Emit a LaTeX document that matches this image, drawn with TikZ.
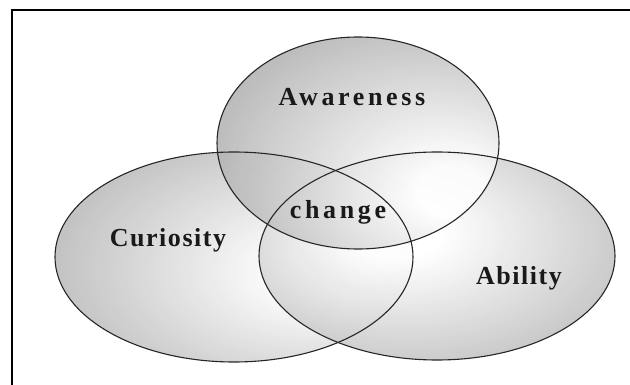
\documentclass[tikz,border=0pt]{standalone}
\usepackage{fontspec}
\setmainfont{Liberation Serif}
\usepackage{xcolor}

\pgfdeclareradialshading{awarenessshade}{\pgfpoint{18bp}{-12bp}}{%
  color(0bp)=(white); color(6bp)=(white); color(50bp)=(black!45); color(80bp)=(black!50)}
\pgfdeclareradialshading{curiosityshade}{\pgfpoint{14bp}{-4bp}}{%
  color(0bp)=(white); color(6bp)=(white); color(50bp)=(black!45); color(80bp)=(black!50)}
\pgfdeclareradialshading{abilityshade}{\pgfpoint{-6bp}{6bp}}{%
  color(0bp)=(white); color(6bp)=(white); color(50bp)=(black!45); color(80bp)=(black!50)}

\tikzset{
  setlabel/.style={font=\fontsize{26}{28}\selectfont\bfseries\addfontfeatures{LetterSpace=6}, text=black!90},
  widelabel/.style={setlabel, font=\fontsize{26}{28}\selectfont\bfseries\addfontfeatures{LetterSpace=14}},
  setline/.style={line width=1.1pt, black!85}
}

\begin{document}
\begin{tikzpicture}[x=1pt, y=-1pt]

    \useasboundingbox (0,0) rectangle (630,385);

    % Frame (only top and left edges inside the picture)
    \draw[line width=2.8pt] (12,385) -- (12,10) -- (630,10);

    % Curiosity
    \shade[shading=curiosityshade, fill opacity=0.85] (234,257) ellipse (179 and 105);

    % Ability
    \shade[shading=abilityshade, fill opacity=0.85] (437,256) ellipse (178 and 104);

    % Awareness
    \shade[shading=awarenessshade, fill opacity=0.85] (358,143) ellipse (141 and 106);

    % Outlines
    \draw[setline] (234,257) ellipse (179 and 105);
    \draw[setline] (437,256) ellipse (178 and 104);
    \draw[setline] (358,143) ellipse (141 and 106);

    % Labels
    \node[widelabel] (awareness) at (352,97) {Awareness};
    \node[setlabel] (curiosity) at (168,240) {Curiosity};
    \node[setlabel] (ability) at (519,278) {Ability};
    \node[widelabel] (change) at (338,212) {change};

\end{tikzpicture}
\end{document}
